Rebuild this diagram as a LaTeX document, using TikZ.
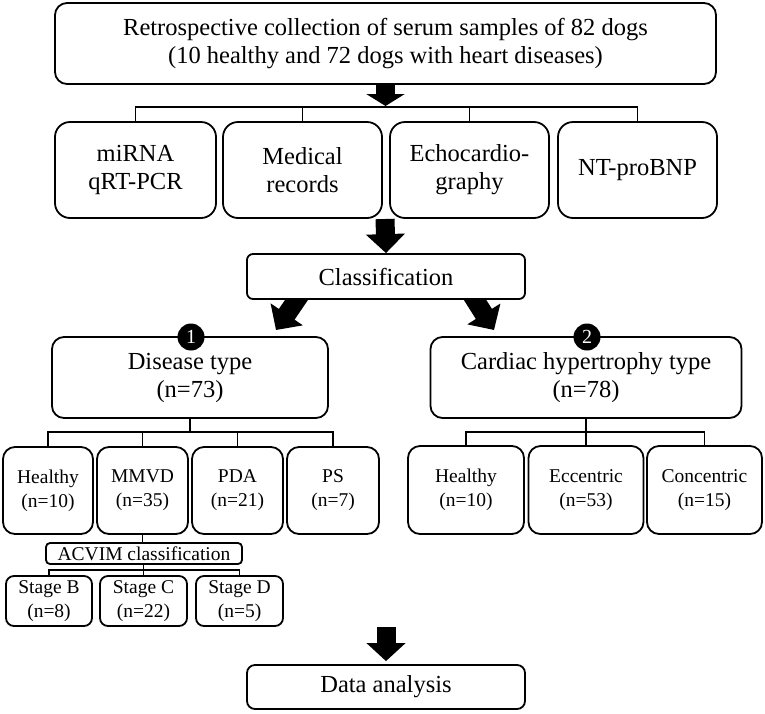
\documentclass[tikz,border=0pt]{standalone}
\usepackage{fontspec}
\setmainfont{Liberation Serif}
\usetikzlibrary{arrows.meta}
\pgfdeclarelayer{bg}
\pgfsetlayers{bg,main}
\tikzset{
  box/.style={draw, line width=1.8pt, rounded corners=#1, fill=white, align=center, inner sep=0pt},
  big/.style={font=\fontsize{24.5}{28}\selectfont},
  small/.style={font=\fontsize{19.5}{24}\selectfont},
  conn/.style={line width=1.8pt},
  barrow/.style={line width=19pt, -{Triangle[length=#1, width=38pt]}},
  circ/.style={circle, fill=black, text=white, minimum size=27pt, inner sep=0pt, font=\fontsize{20}{20}\selectfont}
}
\begin{document}
\begin{tikzpicture}[x=1pt,y=1pt]
\useasboundingbox (0,0) rectangle (765,-713);
% top
\node[box=12pt, big, minimum width=661pt, minimum height=81pt] (top) at (385.5,-43.5)
  {Retrospective collection of serum samples of 82 dogs\\(10 healthy and 72 dogs with heart diseases)};
\node[box=15pt, big, minimum width=161pt, minimum height=96pt] (m1) at (135.5,-170) {miRNA\\qRT-PCR};
\node[box=15pt, big, minimum width=159pt, minimum height=96pt] (m2) at (302.5,-170) {Medical\\records};
\node[box=15pt, big, minimum width=159pt, minimum height=96pt] (m3) at (469.5,-170) {Echocardio-\\graphy};
\node[box=15pt, big, minimum width=159pt, minimum height=96pt] (m4) at (637.5,-170) {NT-proBNP};
\coordinate (b1) at (385.5,-107);
\draw[conn] (m1.north) -- (m1.north |- b1) -| (m4.north);
\draw[conn] (m2.north) -- (m2.north |- b1);
\draw[conn] (m3.north) -- (m3.north |- b1);
% classification
\node[box=6pt, big, minimum width=278pt, minimum height=45pt] (cls) at (386,-276.5) {Classification};
\coordinate (a2s) at (385,-219);
% disease
\node[box=12pt, big, minimum width=276pt, minimum height=81pt] (dis) at (190,-377.5) {Disease type\\(n=73)};
\node[box=12pt, big, minimum width=311pt, minimum height=81pt] (car) at (586,-377.5) {Cardiac hypertrophy type\\(n=78)};
\node[circ] (c1) at (191,-337) {1};
\node[circ] (c2) at (587,-337) {2};
\coordinate (tipL) at (276,-330);
\coordinate (tipR) at (494,-330);
% left sub boxes
\node[box=12pt, small, minimum width=90pt, minimum height=87pt] (h1) at (48,-490.5) {Healthy\\(n=10)};
\node[box=12pt, small, minimum width=91pt, minimum height=87pt] (mm) at (142.5,-490.5) {MMVD\\(n=35)};
\node[box=12pt, small, minimum width=91pt, minimum height=87pt] (pda) at (237.5,-490.5) {PDA\\(n=21)};
\node[box=12pt, small, minimum width=92pt, minimum height=87pt] (ps) at (333,-490.5) {PS\\(n=7)};
\coordinate (b2) at (190,-432);
\draw[conn] (dis.south) -- (b2);
\draw[conn] (h1.north) -- (h1.north |- b2) -| (ps.north);
\draw[conn] (mm.north) -- (mm.north |- b2);
\draw[conn] (pda.north) -- (pda.north |- b2);
% ACVIM
\node[box=4pt, small, minimum width=196pt, minimum height=21pt] (acv) at (144,-553.5) {ACVIM classification};
\draw[conn] (mm.south) -- (mm.south |- acv.north);
\node[box=8pt, small, minimum width=86pt, minimum height=50pt] (sb) at (49,-601) {Stage B\\(n=8)};
\node[box=8pt, small, minimum width=87pt, minimum height=50pt] (sc) at (143.5,-601) {Stage C\\(n=22)};
\node[box=8pt, small, minimum width=87pt, minimum height=50pt] (sd) at (239.5,-601) {Stage D\\(n=5)};
\coordinate (b3) at (143.5,-570);
\draw[conn] (acv.south -| b3) -- (b3);
\draw[conn] (sb.north) -- (sb.north |- b3) -| (sd.north);
\draw[conn] (sc.north) -- (sc.north |- b3);
% right sub boxes
\node[box=12pt, small, minimum width=116pt, minimum height=88pt] (h2) at (466,-490) {Healthy\\(n=10)};
\node[box=12pt, small, minimum width=115pt, minimum height=88pt] (ecc) at (586,-490) {Eccentric\\(n=53)};
\node[box=12pt, small, minimum width=115pt, minimum height=88pt] (con) at (704.5,-490) {Concentric\\(n=15)};
\coordinate (b4) at (586,-432);
\draw[conn] (car.south) -- (b4);
\draw[conn] (h2.north) -- (h2.north |- b4) -| (con.north);
\draw[conn] (ecc.north) -- (ecc.north |- b4);
% data analysis
\node[box=8pt, big, minimum width=278pt, minimum height=44pt] (dat) at (386,-687) {Data analysis};
\coordinate (a3s) at (386,-627);
% arrows
\begin{pgfonlayer}{bg}
\draw[barrow=12pt] (top.south) -- ([yshift=1pt]b1);
\draw[barrow=19pt] (a2s) -- (cls.north);
\draw[barrow=19pt] ([xshift=-84pt,yshift=8pt]cls.south) -- (tipL);
\draw[barrow=19pt] ([xshift=84pt,yshift=8pt]cls.south) -- (tipR);
\draw[barrow=18pt] (a3s) -- ([yshift=3pt]dat.north);
\end{pgfonlayer}
\end{tikzpicture}
\end{document}
